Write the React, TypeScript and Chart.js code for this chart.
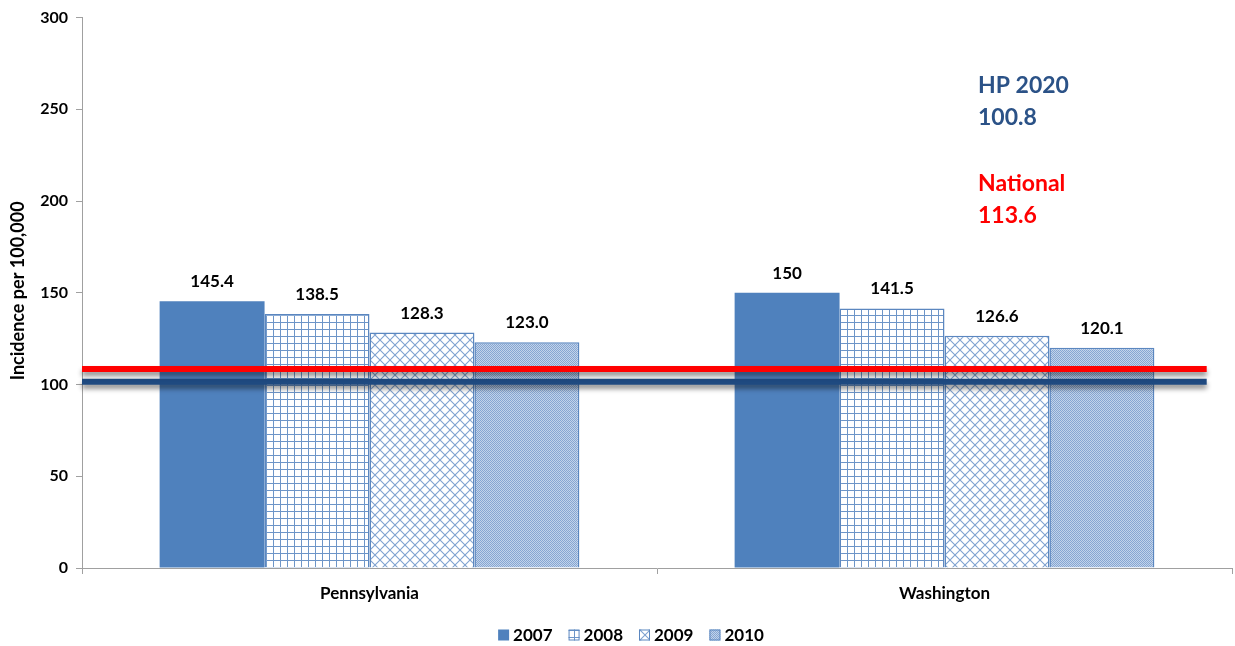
import React, { useEffect, useRef } from "react";
import { Chart, registerables } from "chart.js";

Chart.register(...registerables);

const categories = ["Pennsylvania", "Washington"];
const years = ["2007", "2008", "2009", "2010"];
const values2007 = [145.4, 150];
const values2008 = [138.5, 141.5];
const values2009 = [128.3, 126.6];
const values2010 = [123.0, 120.1];
const labels2007 = ["145.4", "150"];
const labels2008 = ["138.5", "141.5"];
const labels2009 = ["128.3", "126.6"];
const labels2010 = ["123.0", "120.1"];
const yTicks = [0, 50, 100, 150, 200, 250, 300];
const hpLineValue = 101.5;
const nationalLineValue = 108.5;
const hpText = ["HP 2020", "100.8"];
const nationalText = ["National", "113.6"];
const yTitle = "Incidence per 100,000";

const FONT = "Lato, 'Open Sans', sans-serif";
const BLUE = "#4F81BD";

function makePattern(kind: string): CanvasPattern | string {
  const c = document.createElement("canvas");
  const ctx = c.getContext("2d")!;
  if (kind === "grid") {
    c.width = 7; c.height = 7;
    ctx.fillStyle = "#ffffff";
    ctx.fillRect(0, 0, 7, 7);
    ctx.fillStyle = "#6D95C8";
    ctx.fillRect(0, 0, 7, 1);
    ctx.fillRect(0, 0, 1, 7);
  } else if (kind === "cross") {
    c.width = 10; c.height = 10;
    ctx.fillStyle = "#ffffff";
    ctx.fillRect(0, 0, 10, 10);
    ctx.strokeStyle = "#7FA2D0";
    ctx.lineWidth = 1.1;
    ctx.beginPath();
    ctx.moveTo(0, 0); ctx.lineTo(10, 10);
    ctx.moveTo(10, 0); ctx.lineTo(0, 10);
    ctx.stroke();
  } else {
    c.width = 4; c.height = 4;
    ctx.fillStyle = "#C2D3EA";
    ctx.fillRect(0, 0, 4, 4);
    ctx.fillStyle = "#86A6D2";
    ctx.fillRect(0, 0, 1, 1);
    ctx.fillRect(2, 0, 1, 1);
    ctx.fillRect(1, 1, 1, 1);
    ctx.fillRect(3, 1, 1, 1);
    ctx.fillRect(0, 2, 1, 1);
    ctx.fillRect(2, 2, 1, 1);
    ctx.fillRect(1, 3, 1, 1);
    ctx.fillRect(3, 3, 1, 1);
  }
  return ctx.createPattern(c, "repeat") || BLUE;
}

const overlayPlugin = {
  id: "overlay",
  afterDatasetsDraw(chart: any) {
    const ctx = chart.ctx;
    const y = chart.scales.y;
    const area = chart.chartArea;
    // data labels
    ctx.save();
    ctx.font = `bold 17px ${FONT}`;
    ctx.fillStyle = "#000";
    ctx.textAlign = "center";
    ctx.textBaseline = "alphabetic";
    chart.data.datasets.forEach((ds: any, i: number) => {
      const meta = chart.getDatasetMeta(i);
      meta.data.forEach((bar: any, j: number) => {
        ctx.fillText(ds.valueLabels[j], bar.x, bar.y - 14);
      });
    });
    ctx.restore();
    // reference lines
    const right = area.left + (area.right - area.left) * 0.978;
    const drawLine = (v: number, color: string) => {
      const py = y.getPixelForValue(v);
      ctx.save();
      ctx.strokeStyle = color;
      ctx.lineWidth = 6;
      ctx.shadowColor = "rgba(0,0,0,0.45)";
      ctx.shadowBlur = 5;
      ctx.shadowOffsetY = 4;
      ctx.beginPath();
      ctx.moveTo(area.left, py);
      ctx.lineTo(right, py);
      ctx.stroke();
      ctx.restore();
    };
    drawLine(hpLineValue, "#1F4A80");
    drawLine(nationalLineValue, "#FF0000");
    // annotations
    ctx.save();
    ctx.font = `bold 23px ${FONT}`;
    ctx.textAlign = "left";
    ctx.textBaseline = "middle";
    ctx.fillStyle = "#2B5287";
    ctx.fillText(hpText[0], 978, 86);
    ctx.fillText(hpText[1], 978, 118);
    ctx.fillStyle = "#FF0000";
    ctx.fillText(nationalText[0], 978, 184);
    ctx.fillText(nationalText[1], 978, 216);
    ctx.restore();
  },
  afterDraw(chart: any) {
    const ctx = chart.ctx;
    const area = chart.chartArea;
    // y title
    ctx.save();
    ctx.font = `bold 18px ${FONT}`;
    ctx.fillStyle = "#000";
    ctx.textAlign = "center";
    ctx.textBaseline = "middle";
    ctx.translate(18, (area.top + area.bottom) / 2 - 2);
    ctx.rotate(-Math.PI / 2);
    ctx.fillText(yTitle, 0, 0);
    ctx.restore();
    // legend
    ctx.save();
    ctx.font = `bold 17px ${FONT}`;
    ctx.textBaseline = "middle";
    ctx.textAlign = "left";
    const box = 11, gapText = 4, gapItem = 16;
    const widths = years.map((t) => ctx.measureText(t).width);
    const total = widths.reduce((a, w) => a + box + gapText + w, 0) + gapItem * (years.length - 1);
    let x = 631 - total / 2;
    const cy = 635;
    chart.data.datasets.forEach((ds: any, i: number) => {
      ctx.fillStyle = ds.backgroundColor;
      ctx.fillRect(x, cy - box / 2, box, box);
      if (i > 0) {
        ctx.strokeStyle = "#5B87C0";
        ctx.lineWidth = 1;
        ctx.strokeRect(x + 0.5, cy - box / 2 + 0.5, box - 1, box - 1);
      }
      ctx.fillStyle = "#000";
      ctx.fillText(years[i], x + box + gapText, cy + 1);
      x += box + gapText + widths[i] + gapItem;
    });
    ctx.restore();
  },
};

export default function App() {
  const ref = useRef<HTMLCanvasElement>(null);
  useEffect(() => {
    document.body.style.margin = "0";
    const fills = [BLUE, makePattern("grid"), makePattern("cross"), makePattern("dots")];
    const vals = [values2007, values2008, values2009, values2010];
    const labs = [labels2007, labels2008, labels2009, labels2010];
    const chart = new Chart(ref.current!, {
      type: "bar",
      data: {
        labels: categories,
        datasets: years.map((yr, i) => ({
          label: yr,
          data: vals[i],
          valueLabels: labs[i],
          backgroundColor: fills[i],
          borderColor: i === 0 ? BLUE : "#5B87C0",
          borderWidth: i === 0 ? 0 : 1.5,
          barPercentage: 1,
          categoryPercentage: 0.73,
        })) as any,
      },
      options: {
        animation: false,
        responsive: false,
        maintainAspectRatio: false,
        layout: { padding: { left: 6, right: 3, top: 11, bottom: 30 } },
        plugins: {
          tooltip: { enabled: false },
          legend: { display: false },
        },
        scales: {
          x: {
            afterFit: (s: any) => {
              s.height = 48;
            },
            grid: {
              display: true,
              drawOnChartArea: false,
              drawTicks: true,
              tickLength: 6,
              color: "#A0A0A0",
              offset: true,
            },
            border: { color: "#A0A0A0" },
            ticks: {
              color: "#000",
              padding: 9,
              font: { family: FONT, size: 17, weight: "bold" },
            },
          },
          y: {
            min: 0,
            max: 300,
            afterBuildTicks: (s: any) => {
              s.ticks = yTicks.map((v) => ({ value: v }));
            },
            afterFit: (s: any) => {
              s.width = 76;
            },
            grid: {
              display: true,
              drawOnChartArea: false,
              tickLength: 6,
              color: "#A0A0A0",
            },
            border: { color: "#A0A0A0" },
            ticks: {
              color: "#000",
              padding: 8,
              font: { family: FONT, size: 16, weight: "bold" },
            },
          },
        },
      } as any,
      plugins: [overlayPlugin],
    });
    return () => chart.destroy();
  }, []);
  return (
    <div style={{ width: 1235, height: 646 }}>
      <canvas ref={ref} width={1235} height={646} />
    </div>
  );
}
